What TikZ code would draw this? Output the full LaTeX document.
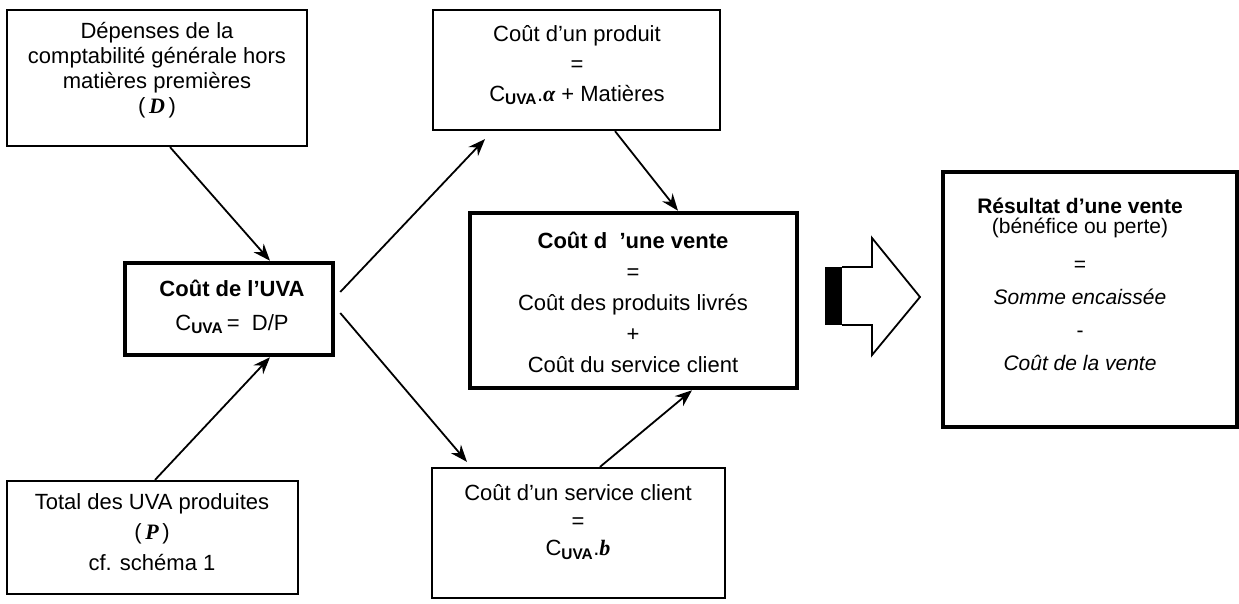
\documentclass[tikz,border=0pt]{standalone}
\usepackage{fontspec}
\setmainfont{Liberation Sans}
\newfontfamily\lserif{Liberation Serif}
\usetikzlibrary{arrows.meta}
\newcommand{\bivar}[1]{{\lserif\bfseries\itshape #1}}
\newcommand{\mysubs}[1]{\textsubscript{\bfseries #1}}
\begin{document}
\begin{tikzpicture}[x=1pt,y=-1pt,
  font=\fontsize{22}{25}\selectfont,
  box/.style={draw=black, line width=2.2pt, rectangle, inner sep=0pt},
  thickbox/.style={box, line width=4.5pt},
  txt/.style={align=center, inner sep=0pt},
  conn/.style={-{Stealth[length=17pt,width=13pt]}, line width=1.8pt}]
\useasboundingbox (0,0) rectangle (1239,604);

% boxes
\node[box, minimum width=300pt, minimum height=136pt] (d) at (157,78) {};
\node[thickbox, minimum width=208pt, minimum height=92pt] (uva) at (229,309) {};
\node[box, minimum width=287pt, minimum height=120pt] (prod) at (576.5,70) {};
\node[thickbox, minimum width=327pt, minimum height=175pt] (vente) at (633.5,300.5) {};
\node[box, minimum width=291pt, minimum height=113pt] (total) at (152.5,537.5) {};
\node[box, minimum width=293pt, minimum height=130pt] (serv) at (578.5,533) {};
\node[thickbox, minimum width=294pt, minimum height=255pt] (res) at (1090,299.5) {};

% texts
\node[txt] (dt) at (157,70) {Dépenses de la\\comptabilité générale hors\\matières premières\\(\,\bivar{D}\,)};
\node[txt, font=\fontsize{22}{34}\selectfont] (uvat) at (232,307) {{\bfseries Coût de l'UVA}\\C\mysubs{UVA}\,= \ D/P};
\node[txt, font=\fontsize{22}{30}\selectfont] (prodt) at (577,65) {Coût d'un produit\\=\\C\mysubs{UVA}.\bivar{α} + Matières};
\node[txt, font=\fontsize{22}{31}\selectfont] (ventet) at (633,302) {{\bfseries Coût d \ 'une vente}\\=\\Coût des produits livrés\\+\\Coût du service client};
\node[txt, font=\fontsize{22}{30.5}\selectfont] (totalt) at (152,532) {Total des UVA produites\\(\,\bivar{P}\,)\\cf. schéma 1};
\node[txt, font=\fontsize{22}{27.5}\selectfont] (servt) at (578,522) {Coût d'un service client\\=\\C\mysubs{UVA}.\bivar{b}};
\node[txt, font=\fontsize{21}{20}\selectfont] (rest) at (1080,284) {{\bfseries Résultat d'une vente}\\(bénéfice ou perte)\\[18pt]=\\[13pt]{\itshape Somme encaissée}\\[13pt]-\\[13pt]{\itshape Coût de la vente}};

% connectors
\draw[conn] ([xshift=13pt]d.south) -- ([xshift=41pt]uva.north);
\draw[conn] ([xshift=2.5pt]total.north) -- ([xshift=41pt]uva.south);
\draw[conn] ([xshift=5pt,yshift=17pt]uva.east) -- ([xshift=-91.5pt,yshift=-8pt]prod.south);
\draw[conn] ([xshift=5pt,yshift=-4pt]uva.east) -- ([xshift=-111.5pt,yshift=5pt]serv.north);
\draw[conn] ([xshift=38.5pt]prod.south) -- ([xshift=44.5pt]vente.north);
\draw[conn] ([xshift=21.5pt]serv.north) -- ([xshift=58.5pt]vente.south);

% block arrow
\fill[black] (825,267) rectangle (842,325);
\draw[line width=1.8pt, line join=miter] (842,267) -- (872,267) -- (872,238) -- (920,297) -- (872,355) -- (872,325) -- (842,325);
\end{tikzpicture}
\end{document}
